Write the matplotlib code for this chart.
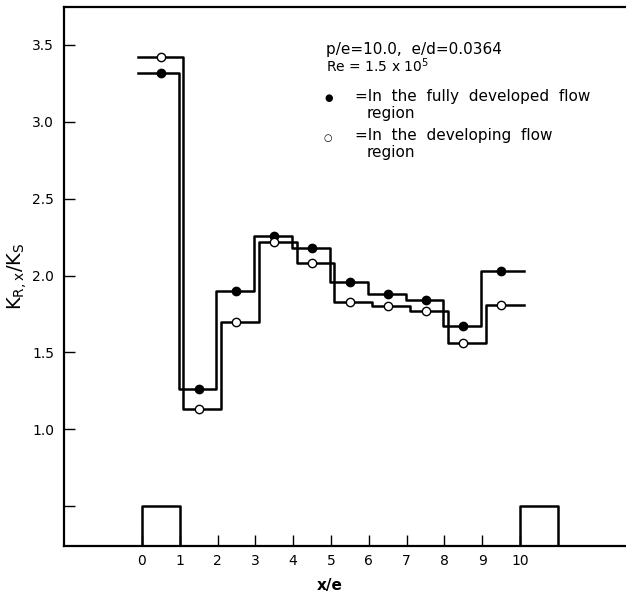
import numpy as np
import matplotlib
matplotlib.use("Agg")
import matplotlib.pyplot as plt

# rib pitch positions (x/e) and measured K_R,x/K_S per segment
segments = np.arange(0, 11)
fully_developed = [3.32, 1.26, 1.90, 2.26, 2.18, 1.96, 1.88, 1.84, 1.67, 2.03]
developing = [3.42, 1.13, 1.70, 2.22, 2.08, 1.83, 1.80, 1.77, 1.56, 1.81]
x_tick_labels = ["0", "1", "2", "3", "4", "5", "6", "7", "8", "9", "10"]
y_ticks = [0.5, 1.0, 1.5, 2.0, 2.5, 3.0, 3.5]
y_tick_labels = ["", "1.0", "1.5", "2.0", "2.5", "3.0", "3.5"]
rib_x = [0, 0, 1, 1]
rib_x2 = [10, 10, 11, 11]
rib_top = 0.5

plt.rcParams['font.family'] = ['DejaVu Sans']

fig = plt.figure(figsize=(6.26, 5.96), dpi=100)
ax = fig.add_axes([64 / 626, 1 - 546 / 596, 1 - 64 / 626, (546 - 7) / 596])

ybot = 0.24
ax.set_xlim(-2.06, 12.8)
ax.set_ylim(ybot, 3.747)


def step_line(values, shift, marker, face):
    edges = segments.astype(float) + shift
    edges[0] = -0.1
    edges[-1] = 10.1
    vals = list(values) + [values[-1]]
    ax.step(edges, vals, where="post", color="black", lw=1.8)
    centers = segments[:-1] + 0.5
    ax.plot(centers, values, linestyle="none", marker=marker, ms=6,
            mfc=face, mec="black", mew=1.0, zorder=3)


step_line(fully_developed, -0.03, "o", "black")
step_line(developing, 0.09, "o", "white")

# ribs on the wall
ax.plot(rib_x, [ybot, rib_top, rib_top, ybot], color="black", lw=1.8)
ax.plot(rib_x2, [ybot, rib_top, rib_top, ybot], color="black", lw=1.8)

ax.spines["right"].set_visible(False)
for s in ["left", "top", "bottom"]:
    ax.spines[s].set_linewidth(1.6)

ax.set_xticks(segments)
ax.set_xticklabels(x_tick_labels, fontsize=10)
ax.set_yticks(y_ticks)
ax.set_yticklabels(y_tick_labels, fontsize=10)
ax.tick_params(axis="both", direction="in", length=8, width=1.0)
ax.tick_params(axis="y", pad=7)
ax.tick_params(axis="x", pad=6)

ax.set_ylabel(r"$\mathregular{K_{R,x}/K_S}$", fontsize=14, labelpad=2)
ax.set_xlabel("x/e", fontsize=11, fontweight="bold")
ax.xaxis.set_label_coords((330 - 64) / 562, -0.06)


def fpos(px, py):
    return px / 626, 1 - py / 596


fig.text(*fpos(326, 54), "p/e=10.0,  e/d=0.0364", fontsize=11)
fig.text(*fpos(326, 72), r"Re = 1.5 x 10$^{5}$", fontsize=10)
fig.text(*fpos(324, 101), "\u25CF", fontsize=7)
fig.text(*fpos(355, 101), "=In  the  fully  developed  flow", fontsize=11)
fig.text(*fpos(367, 118), "region", fontsize=11)
fig.text(*fpos(324, 141), "\u25CB", fontsize=7)
fig.text(*fpos(355, 140), "=In  the  developing  flow", fontsize=11)
fig.text(*fpos(367, 157), "region", fontsize=11)

fig.savefig("out.png", dpi=100)
